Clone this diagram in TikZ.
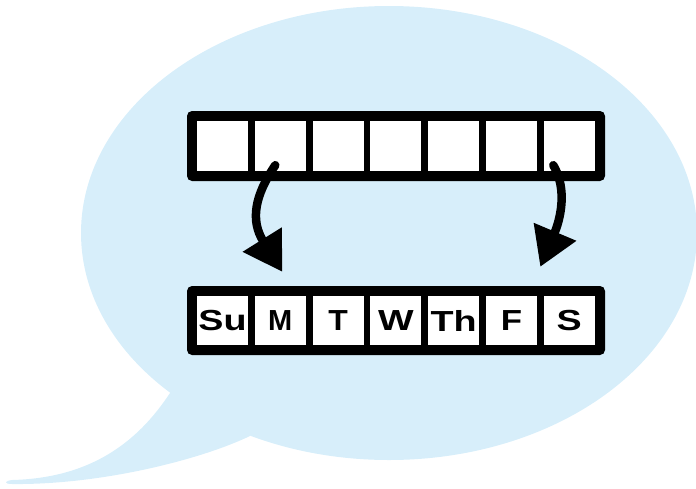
\documentclass[tikz,border=0pt]{standalone}
\usepackage{fontspec}
\setmainfont{Liberation Sans}
\usetikzlibrary{arrows.meta}
\definecolor{bubble}{RGB}{215,238,250}
\tikzset{
  bar/.style={fill=black, rounded corners=5pt, inner sep=0pt, minimum width=418pt},
  cell/.style={fill=white, inner sep=0pt, minimum width=51pt, font=\fontsize{29}{29}\selectfont\bfseries},
  arr/.style={line width=8.5pt, line cap=round, -{Triangle[length=38pt,width=44pt]}},
}
\begin{document}
\begin{tikzpicture}[x=1pt,y=-1pt]
\useasboundingbox (0,0) rectangle (696,488);
% speech bubble
\fill[bubble] (389,233) ellipse [x radius=308, y radius=227];
\fill[bubble] (170,393) .. controls (137,443) and (90,478) .. (12,480)
  .. controls (4,481) and (4,484) .. (12,484)
  .. controls (100,485) and (200,460) .. (250,436) -- (300,300) -- cycle;
% top bar
\node[bar, minimum height=70pt] (top) at (396,146) {};
\foreach \i in {1,...,7} {
  \node[cell, minimum height=50pt] (t\i) at ({222.5+(\i-1)*57.8},146) {};
}
% bottom bar
\node[bar, minimum height=69pt] (bot) at (396,320.5) {};
\foreach \i/\t/\s in {1/Su/1.3,2/M/1.0,3/T/1.1,4/W/1.3,5/Th/1.3,6/F/1.2,7/S/1.3} {
  \node[cell, minimum height=49pt] (b\i) at ({222.5+(\i-1)*57.8},320.5) {\scalebox{\s}[1]{\t}};
}
% arrows
\draw[arr] ([shift={(-5,-6)}]t2.south) .. controls (255,195) and (250,220) .. ([shift={(2,-24)}]b2.north);
\draw[arr] ([shift={(-16,-6)}]t7.south) .. controls (568,190) and (560,220) .. ([shift={(-29,-29)}]b7.north);
\end{tikzpicture}
\end{document}
